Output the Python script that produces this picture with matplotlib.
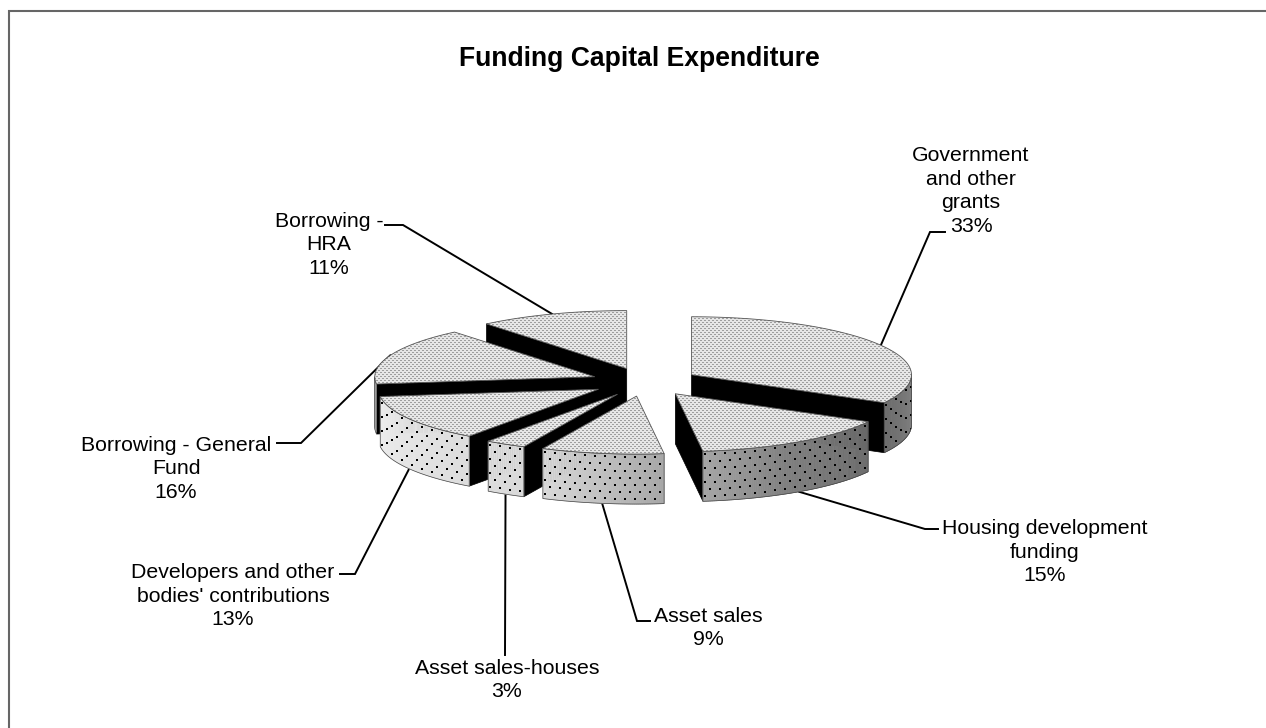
import numpy as np
import matplotlib
matplotlib.use("Agg")
import matplotlib.pyplot as plt
from matplotlib.patches import Polygon

plt.rcParams['font.family'] = ['Liberation Sans', 'DejaVu Sans']

names = ["Government\nand other\ngrants", "Housing development\nfunding", "Asset sales",
         "Asset sales-houses", "Developers and other\nbodies' contributions",
         "Borrowing - General\nFund", "Borrowing -\nHRA"]
percents = [33, 15, 9, 3, 13, 16, 11]

# label centres and leader elbows, in pixels of the page
label_x = [971, 1045, 708, 507, 233, 176, 329]
label_y = [191, 552, 628, 680, 596, 469, 245]
elbow_x = [930, 925, 637, 505, 355, 301, 403]
elbow_y = [232, 529, 621, 655, 574, 443, 225]
stub_x = [945, 938, 650, 505, 340, 277, 385]

# pie geometry
cx, cy = 645, 382
rx, ry = 220, 58
depth = 50
explode = 54

# shade of the curved wall, going clockwise from 3 o'clock
shade_angle = [90, 120, 150, 173, 205, 265, 270]
shade_gray = [0.52, 0.42, 0.50, 0.65, 0.85, 0.93, 0.60]

fig = plt.figure(figsize=(12.66, 7.28), dpi=100)
ax = fig.add_axes([0, 0, 1, 1])
ax.set_xlim(0, 1266)
ax.set_ylim(728, 0)
ax.axis("off")

# fine stipple for the top faces
yy, xx = np.mgrid[0:728, 0:1266]
stipple = np.full(xx.shape, 0.90)
stipple[((xx % 4 < 2) & (yy % 4 == 0)) | ((xx % 4 >= 2) & (yy % 4 == 2))] = 0.62


def point(ox, oy, deg):
    a = np.radians(deg)
    return ox + rx * np.sin(a), oy - ry * np.cos(a)


edges = np.cumsum([0] + percents) * 3.6
order = sorted(range(len(percents)), key=lambda i: -abs((edges[i] + edges[i + 1]) / 2 - 180))

z = 2
for i in order:
    a0, a1 = edges[i], edges[i + 1]
    mid = np.radians((a0 + a1) / 2)
    ox = cx + explode * np.sin(mid)
    oy = cy - explode * ry / rx * np.cos(mid)

    # black cut faces that look towards the viewer
    for deg, show in ((a0, np.sin(np.radians(a0)) < 0), (a1, np.sin(np.radians(a1)) > 0)):
        if show:
            ex, ey = point(ox, oy, deg)
            ax.add_patch(Polygon([(ox, oy), (ex, ey), (ex, ey + depth), (ox, oy + depth)],
                                 closed=True, fc="black", ec="black", lw=0.5, zorder=z))

    # curved outer wall
    w0, w1 = max(a0, 90), min(a1, 270)
    if w1 > w0:
        steps = np.linspace(w0, w1, max(int(w1 - w0) * 2, 3))
        for s0, s1 in zip(steps[:-1], steps[1:]):
            g = np.interp((s0 + s1) / 2, shade_angle, shade_gray)
            x0, y0 = point(ox, oy, s0)
            x1, y1 = point(ox, oy, s1)
            ax.add_patch(Polygon([(x0, y0), (x1, y1), (x1, y1 + depth), (x0, y0 + depth)],
                                 closed=True, fc=str(g), ec=str(g), lw=0.5, zorder=z))
        tx, ty = point(ox, oy, steps)
        wall = Polygon(np.r_[np.c_[tx, ty], np.c_[tx, ty + depth][::-1]], closed=True,
                       fc="none", ec="#444444", lw=0.5, zorder=z + 0.2)
        ax.add_patch(wall)

        # dots sitting on the wall, rows follow the curve
        order_x = np.argsort(tx)
        dot_x, dot_y = [], []
        for k, dx in enumerate(np.arange(tx.min() + 2, tx.max(), 5)):
            top = np.interp(dx, tx[order_x], ty[order_x])
            for j in range(4):
                dot_x.append(dx)
                dot_y.append(top + 3 + (k % 2) * 7 + 14 * j)
        dots = ax.scatter(dot_x, dot_y, s=4.5, marker="s", c="black", linewidths=0, zorder=z + 0.1)
        dots.set_clip_path(wall)

    # top face
    arc = np.linspace(a0, a1, 80)
    px, py = point(ox, oy, arc)
    top_face = Polygon(np.r_[[(ox, oy)], np.c_[px, py]], closed=True, fc="none", ec="#555555",
                       lw=0.6, zorder=z + 0.4)
    ax.add_patch(top_face)
    im = ax.imshow(stipple, cmap="gray", vmin=0, vmax=1, extent=(0, 1266, 728, 0), aspect="auto",
                   interpolation="nearest", zorder=z + 0.3)
    im.set_clip_path(top_face)
    z += 1

    # leader line from the middle of the outer edge
    lx, ly = point(ox, oy, (a0 + a1) / 2)
    if np.cos(mid) < 0:
        ly += depth
    ax.plot([lx, elbow_x[i], stub_x[i]], [ly, elbow_y[i], elbow_y[i]], color="black", lw=1.4,
            solid_joinstyle="miter", zorder=1)
    ax.text(label_x[i], label_y[i], f"{names[i]}\n{percents[i]}%", ha="center", va="center",
            ma="center", fontsize=15.3, linespacing=1.315, color="black", zorder=20)

ax.set_xlim(0, 1266)
ax.set_ylim(728, 0)

ax.text(639, 59, "Funding Capital Expenditure", ha="center", va="center", fontsize=19.1,
        fontweight="bold", color="black")

# frame only shows on the top and left
ax.plot([8.5, 8.5, 1266], [728, 10.5, 10.5], color="#666666", lw=1.5, solid_joinstyle="miter")

plt.savefig("out.png", dpi=100)
plt.close()
